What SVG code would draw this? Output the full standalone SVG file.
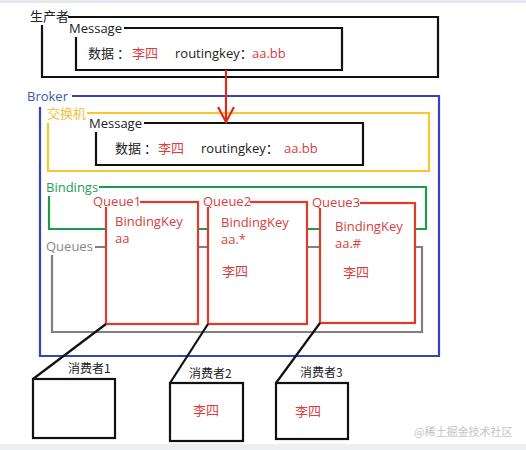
<svg xmlns="http://www.w3.org/2000/svg" width="526" height="450" viewBox="0 0 526 450">
<defs>
<style>
text{font-family:"Open Sans","Noto Sans CJK SC",sans-serif;font-size:13px}
.cn{font-family:"Noto Sans CJK SC",sans-serif}
.k{fill:#222}
.r{fill:#d84040}
.s12{font-size:12px}
.wm{font-size:11px;fill:#c4c4c4}
.blk{fill:none;stroke:#111;stroke-width:2.2}
.q{fill:#fff;stroke:#e03a2a;stroke-width:2.2}
.bk{fill:#fff}
</style>
</defs>
<rect x="0" y="0" width="526" height="450" fill="#fff"/>
<rect x="0" y="0" width="526" height="3" fill="#e4e8ee"/>
<rect x="0" y="444" width="526" height="6" fill="#eceef0"/>

<g id="producer">
<path class="blk" d="M68 17 H438 V77 H42 V25"/>
<text x="30" y="21" class="cn k">生产者</text>
<path class="blk" d="M124 28 H342 V70 H76 V37"/>
<text x="69" y="33" class="k">Message</text>
<text x="88" y="58" class="cn k">数据 ：</text>
<text x="132" y="58" class="cn r">李四</text>
<text x="175" y="58" class="k">routingkey：</text>
<text x="252" y="58" class="r">aa.bb</text>
</g>

<g id="broker">
<path fill="none" stroke="#3544b8" stroke-width="2.2" d="M72 96 H439 V356 H40 V107"/>
<text x="27" y="101" fill="#3a58b0">Broker</text>
</g>

<g id="exchange">
<path fill="none" stroke="#f5c830" stroke-width="2.2" d="M87 113 H429 V171 H48 V123"/>
<text x="47" y="118" class="cn" fill="#f0c040">交换机</text>
<path class="blk" d="M144 123 H363 V165 H96 V132"/>
<text x="89" y="128" class="k">Message</text>
<text x="115" y="153" class="cn k">数据 ：</text>
<text x="158" y="153" class="cn r">李四</text>
<text x="201" y="153" class="k">routingkey：</text>
<text x="284" y="153" class="r">aa.bb</text>
</g>

<g id="bindings">
<path fill="none" stroke="#1e9a4a" stroke-width="2.2" d="M99 187 H426 V229 H49 V196"/>
<text x="46" y="192" fill="#2a9a5a">Bindings</text>
</g>

<g id="queues">
<path fill="none" stroke="#808080" stroke-width="2.2" d="M95 247 H422 V332 H52 V255"/>
<text x="46" y="251" fill="#888">Queues</text>
</g>

<g id="queue1">
<rect class="q" x="106" y="202" width="92" height="122"/>
<rect class="bk" x="90" y="195" width="50" height="12"/>
<text x="93" y="206" class="r">Queue1</text>
<text x="115" y="226" class="r">BindingKey</text>
<text x="115" y="243" class="r">aa</text>
</g>

<g id="queue2">
<rect class="q" x="208" y="202" width="99" height="122"/>
<rect class="bk" x="201" y="195" width="49" height="12"/>
<text x="203" y="206" class="r">Queue2</text>
<text x="221" y="227" class="r">BindingKey</text>
<text x="221" y="244" class="r">aa.*</text>
<text x="222" y="276" class="cn r">李四</text>
</g>

<g id="queue3">
<rect class="q" x="320" y="203" width="95" height="120"/>
<rect class="bk" x="310" y="196" width="50" height="12"/>
<text x="312" y="207" class="r">Queue3</text>
<text x="335" y="231" class="r">BindingKey</text>
<text x="335" y="248" class="r">aa.#</text>
<text x="343" y="277" class="cn r">李四</text>
</g>

<g id="consumer1">
<rect class="blk" x="33" y="379" width="82" height="59"/>
<text x="68" y="373" class="cn k s12">消费者1</text>
</g>

<g id="consumer2">
<rect class="blk" x="170" y="383" width="73" height="58"/>
<text x="189" y="378" class="cn k s12">消费者2</text>
<text x="193" y="415" class="cn r">李四</text>
</g>

<g id="consumer3">
<rect class="blk" x="276" y="383" width="72" height="56"/>
<text x="300" y="377" class="cn k s12">消费者3</text>
<text x="295" y="416" class="cn r">李四</text>
</g>

<g id="connectors">
<path d="M226 70 V122 M218 107 L226 122 L234 107" fill="none" stroke="#e02a1a" stroke-width="2.2"/>
<line x1="106" y1="324" x2="33" y2="379" stroke="#111" stroke-width="2.2"/>
<line x1="208" y1="324" x2="170" y2="383" stroke="#111" stroke-width="2.2"/>
<line x1="320" y1="323" x2="276" y2="383" stroke="#111" stroke-width="2.2"/>
</g>

<text x="414" y="436" class="cn wm">@稀土掘金技术社区</text>
</svg>
